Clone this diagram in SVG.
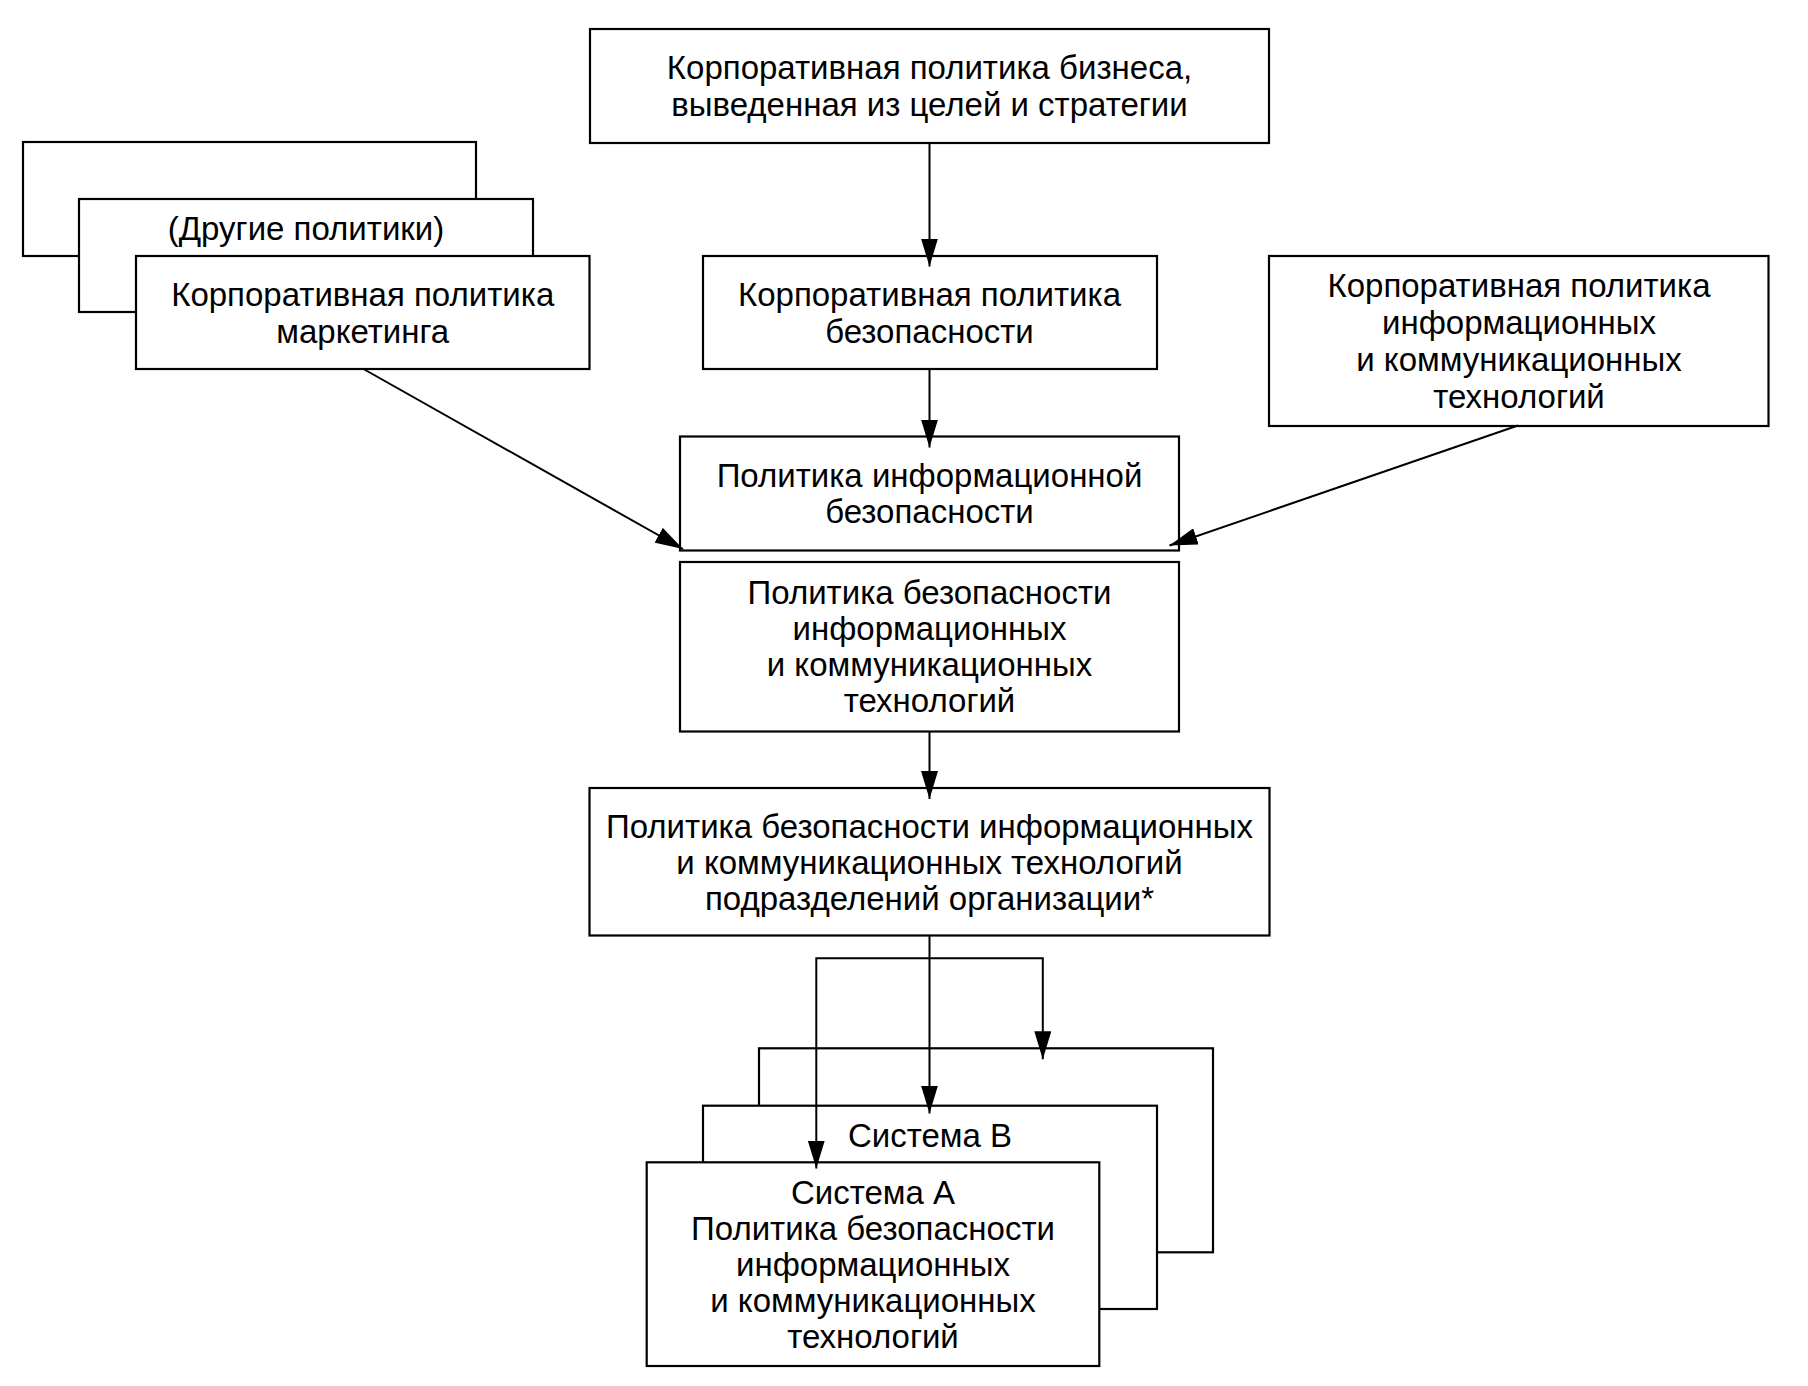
<svg xmlns="http://www.w3.org/2000/svg" width="1808" height="1386" viewBox="0 0 1808 1386">
<style>
.box{fill:#fff;stroke:#000;stroke-width:2.2}
.t{font-family:"Liberation Sans",Arial,sans-serif;font-size:33px;fill:#000;text-anchor:middle}
.c{fill:none;stroke:#000;stroke-width:2;marker-end:url(#arr)}
</style>
<defs>
<marker id="arr" markerUnits="userSpaceOnUse" markerWidth="28" markerHeight="17" refX="28" refY="8.5" orient="auto">
<path d="M0,0 L28,8.5 L0,17 z" fill="#000"/>
</marker>
</defs>
<rect width="1808" height="1386" fill="#fff"/>
<g id="n-business">
<rect class="box" x="590" y="29" width="679" height="114"/>
<text class="t" x="929.5" y="79">Корпоративная политика бизнеса,</text>
<text class="t" x="929.5" y="116">выведенная из целей и стратегии</text>
</g>
<g id="n-other-back">
<rect class="box" x="23" y="142" width="453" height="114"/>
</g>
<g id="n-other">
<rect class="box" x="79" y="199" width="454" height="113"/>
<text class="t" x="306" y="240">(Другие политики)</text>
</g>
<g id="n-marketing">
<rect class="box" x="136" y="256" width="453.5" height="113"/>
<text class="t" x="362.7" y="306">Корпоративная политика</text>
<text class="t" x="362.7" y="343">маркетинга</text>
</g>
<g id="n-security">
<rect class="box" x="703" y="256" width="454" height="113"/>
<text class="t" x="929.5" y="306">Корпоративная политика</text>
<text class="t" x="929.5" y="343">безопасности</text>
</g>
<g id="n-ict-corp">
<rect class="box" x="1269" y="256" width="499.5" height="170"/>
<text class="t" x="1519" y="297">Корпоративная политика</text>
<text class="t" x="1519" y="334">информационных</text>
<text class="t" x="1519" y="371">и коммуникационных</text>
<text class="t" x="1519" y="408">технологий</text>
</g>
<g id="n-infosec">
<rect class="box" x="680" y="436.5" width="499" height="114"/>
<text class="t" x="929.5" y="487">Политика информационной</text>
<text class="t" x="929.5" y="523">безопасности</text>
</g>
<g id="n-ictsec">
<rect class="box" x="680" y="562" width="499" height="169.5"/>
<text class="t" x="929.5" y="604">Политика безопасности</text>
<text class="t" x="929.5" y="640">информационных</text>
<text class="t" x="929.5" y="676">и коммуникационных</text>
<text class="t" x="929.5" y="712">технологий</text>
</g>
<g id="n-subdiv">
<rect class="box" x="589.5" y="788" width="680" height="147.5"/>
<text class="t" x="929.5" y="837.5">Политика безопасности информационных</text>
<text class="t" x="929.5" y="873.5">и коммуникационных технологий</text>
<text class="t" x="929.5" y="909.5">подразделений организации*</text>
</g>
<g id="connectors">
<path class="c" d="M929.5,143 V266.5"/>
<path class="c" d="M929.5,369 V447.5"/>
<path class="c" d="M929.5,731.5 V799"/>
<path class="c" d="M363.5,369 L683,549"/>
<path class="c" d="M1518,425.5 L1169.5,545.5"/>
</g>
<g id="n-sys-c">
<rect class="box" x="759" y="1048.3" width="454" height="204"/>
</g>
<g id="connectors-2">
<path class="c" d="M929.5,958.3 H1042.8 V1059.3"/>
</g>
<g id="n-sys-b">
<rect class="box" x="703" y="1105.7" width="454" height="203.3"/>
<text class="t" x="930" y="1146.5">Система В</text>
</g>
<g id="connectors-3">
<path class="c" d="M929.5,935.5 V1113.5"/>
</g>
<g id="n-sys-a">
<rect class="box" x="646.7" y="1162.3" width="452.6" height="203.7"/>
<text class="t" x="873" y="1203.5">Система А</text>
<text class="t" x="873" y="1239.5">Политика безопасности</text>
<text class="t" x="873" y="1275.5">информационных</text>
<text class="t" x="873" y="1311.5">и коммуникационных</text>
<text class="t" x="873" y="1347.5">технологий</text>
</g>
<g id="connectors-4">
<path class="c" d="M929.5,958.3 H816.3 V1168.5"/>
</g>
</svg>
